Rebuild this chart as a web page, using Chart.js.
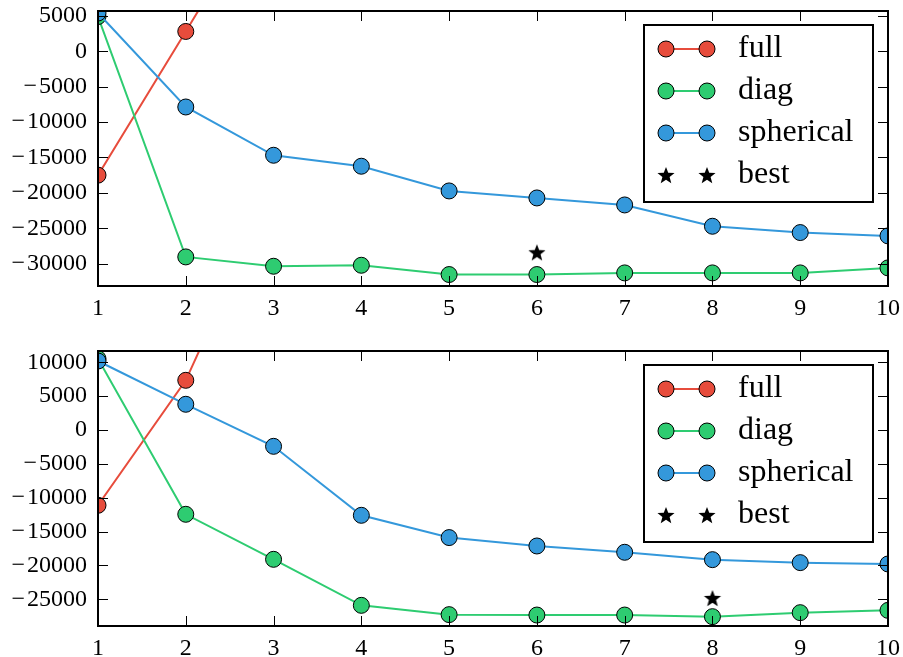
<!DOCTYPE html>
<html><head><meta charset="utf-8">
<script src="https://cdn.jsdelivr.net/npm/chart.js@4"></script>
<style>
body{margin:0;background:#fff;width:903px;height:657px;overflow:hidden;position:relative}
.w{position:absolute;left:0;width:903px}
</style></head><body>
<div class="w" style="top:0;height:320px"><canvas id="c1"></canvas></div>
<div class="w" style="top:320px;height:337px"><canvas id="c2"></canvas></div>
<script>
// ---- data ----
const components = [1, 2, 3, 4, 5, 6, 7, 8, 9, 10];
const seriesNames = ['full', 'diag', 'spherical', 'best'];
const seriesColors = ['#e74c3c', '#2ecc71', '#3498db', '#000000'];

const topFull      = [-17500, 2800, 23300, null, null, null, null, null, null, null];
const topDiag      = [4900, -29050, -30370, -30230, -31540, -31540, -31310, -31310, -31310, -30600];
const topSpherical = [5400, -7870, -14690, -16240, -19730, -20720, -21710, -24720, -25610, -26080];
const topBest      = [null, null, null, null, null, -28400, null, null, null, null];
const topYTicks    = [5000, 0, -5000, -10000, -15000, -20000, -25000, -30000];
const topYRange    = [-33160, 5690];

const botFull      = [-11120, 7340, 35800, null, null, null, null, null, null, null];
const botDiag      = [10540, -12450, -19100, -25900, -27270, -27330, -27330, -27570, -26980, -26640];
const botSpherical = [10190, 3800, -2410, -12600, -15890, -17130, -18060, -19150, -19590, -19790];
const botBest      = [null, null, null, null, null, null, null, -24810, null, null];
const botYTicks    = [10000, 5000, 0, -5000, -10000, -15000, -20000, -25000];
const botYRange    = [-28950, 11670];

const xTicks = components;

// ---- star marker ----
function makeStar(r){
  const c = document.createElement('canvas');
  const s = Math.ceil(r*2+2);
  c.width = s; c.height = s;
  const g = c.getContext('2d');
  g.beginPath();
  for (let i=0;i<10;i++){
    const rr = i%2===0 ? r : r*0.42;
    const a = -Math.PI/2 + i*Math.PI/5;
    const px = s/2 + rr*Math.cos(a), py = s/2 + rr*Math.sin(a) + r*0.1;
    i===0 ? g.moveTo(px,py) : g.lineTo(px,py);
  }
  g.closePath(); g.fillStyle='#000'; g.fill();
  return c;
}
const starImg = makeStar(9);

const FONT = "'Liberation Serif', 'Times New Roman', serif";
const fmt = v => v < 0 ? '\u2212\u200A' + Math.abs(v) : String(v);

const framePlugin = {
  id: 'frame',
  afterDraw(chart){
    const {ctx, chartArea:a, scales:{x, y}} = chart;
    ctx.save();
    ctx.strokeStyle = '#000';
    ctx.lineWidth = 1;
    const L = (x1,y1,x2,y2)=>{ctx.beginPath();ctx.moveTo(x1,y1);ctx.lineTo(x2,y2);ctx.stroke();};
    x.ticks.forEach(t=>{const p=Math.round(x.getPixelForValue(t.value))+0.5; L(p,a.bottom,p,a.bottom-10); L(p,a.top,p,a.top+10);});
    y.ticks.forEach(t=>{const p=Math.round(y.getPixelForValue(t.value))+0.5; L(a.left,p,a.left+10,p); L(a.right,p,a.right-10,p);});
    ctx.lineWidth = 2;
    ctx.strokeRect(a.left, a.top, a.width, a.height);
    // legend
    const bx = a.right - 244, by = a.top + 14, bw = 229, bh = 177;
    ctx.fillStyle = '#fff';
    ctx.fillRect(bx, by, bw, bh);
    ctx.lineWidth = 2;
    ctx.strokeRect(bx, by, bw, bh);
    chart.data.datasets.forEach((ds, i) => {
      const ry = by + 24 + i*42;
      const x1 = bx + 22, x2 = bx + 63;
      if (ds.showLine !== false){
        ctx.strokeStyle = ds.borderColor; ctx.lineWidth = 2;
        L(x1, ry, x2, ry);
        [x1, x2].forEach(px=>{
          ctx.beginPath(); ctx.arc(px, ry, 8, 0, Math.PI*2);
          ctx.fillStyle = ds.backgroundColor; ctx.fill();
          ctx.strokeStyle = '#000'; ctx.lineWidth = 1; ctx.stroke();
        });
      } else {
        [x1, x2].forEach(px=>ctx.drawImage(starImg, px-starImg.width/2, ry-starImg.height/2));
      }
      ctx.fillStyle = '#000';
      ctx.font = "32px " + FONT;
      ctx.textBaseline = 'middle';
      ctx.textAlign = 'left';
      ctx.fillText(ds.label, bx + 94, ry);
    });
    ctx.restore();
  }
};

function build(id, full, diag, sph, best, yTicks, yRange, padTop, xHeight){
  const pts = arr => components.map((c,i)=>({x:c, y:arr[i]}));
  const lineDs = (label, arr, color, order) => ({
    label, data: pts(arr), borderColor: color, backgroundColor: color,
    borderWidth: 2, pointRadius: 8, pointBorderColor: '#000', pointBorderWidth: 1,
    pointBackgroundColor: color, tension: 0, clip: 0, order, spanGaps: false
  });
  new Chart(document.getElementById(id), {
    type: 'line',
    data: { datasets: [
      lineDs(seriesNames[0], full, seriesColors[0], 4),
      lineDs(seriesNames[1], diag, seriesColors[1], 3),
      lineDs(seriesNames[2], sph, seriesColors[2], 2),
      { label: seriesNames[3], data: pts(best), showLine: false, pointStyle: starImg,
        pointRadius: 9, borderColor: '#000', backgroundColor: '#000', clip: 0, order: 1 }
    ]},
    options: {
      responsive: true, maintainAspectRatio: false, animation: false,
      layout: { padding: { top: padTop, right: 15, left: 0, bottom: 0 } },
      plugins: { legend: { display: false }, tooltip: { enabled: false } },
      scales: {
        x: {
          type: 'linear', min: 1, max: 10,
          grid: { display: false, drawTicks: false }, border: { display: false },
          ticks: { color: '#000', font: { family: FONT, size: 24 }, padding: 8, maxRotation: 0,
                   callback: v => String(v) },
          afterBuildTicks: s => { s.ticks = xTicks.map(v => ({ value: v })); },
          afterFit: s => { s.height = xHeight; s.paddingLeft = 0; s.paddingRight = 0; }
        },
        y: {
          min: yRange[0], max: yRange[1],
          grid: { display: false, drawTicks: false }, border: { display: false },
          ticks: { color: '#000', font: { family: FONT, size: 24 }, padding: 11, callback: v => fmt(v) },
          afterBuildTicks: s => { s.ticks = yTicks.map(v => ({ value: v })); },
          afterFit: s => { s.width = 98; s.paddingTop = 0; s.paddingBottom = 0; }
        }
      }
    },
    plugins: [framePlugin]
  });
}

build('c1', topFull, topDiag, topSpherical, topBest, topYTicks, topYRange, 11, 34);
build('c2', botFull, botDiag, botSpherical, botBest, botYTicks, botYRange, 31, 31);
</script>
</body></html>
